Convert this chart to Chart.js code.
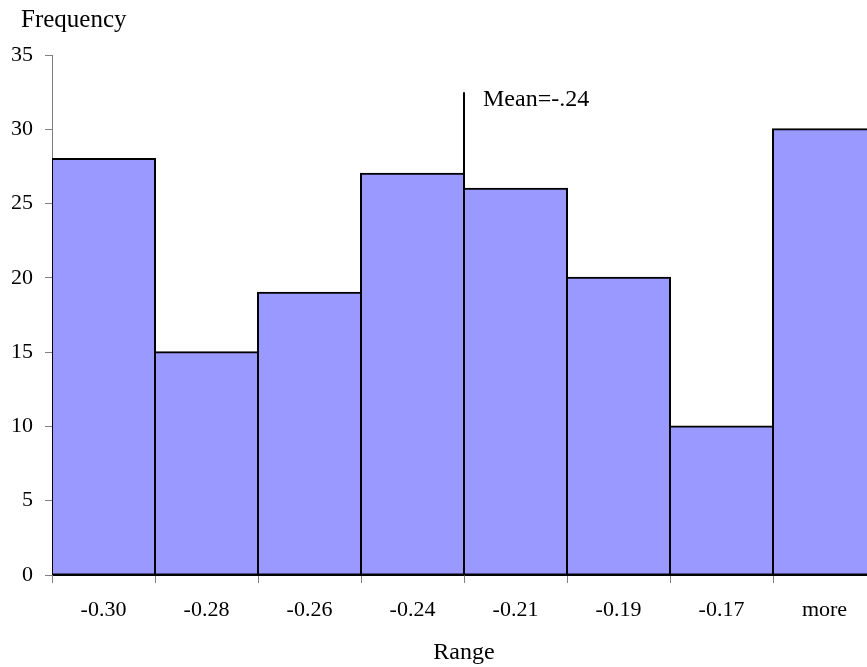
<!DOCTYPE html>
<html>
<head>
<meta charset="utf-8">
<script src="https://cdn.jsdelivr.net/npm/chart.js@4/dist/chart.umd.min.js"></script>
<style>
  html, body { margin: 0; padding: 0; background: #fff; overflow: hidden; }
  #wrap { width: 880px; height: 667px; }
</style>
</head>
<body>
<div id="wrap"><canvas id="c" width="880" height="667"></canvas></div>
<script>
// Histogram bins and their counts
const categories = ['-0.30', '-0.28', '-0.26', '-0.24', '-0.21', '-0.19', '-0.17', 'more'];
const frequencies = [28, 15, 19, 27, 26, 20, 10, 30];
const yTickValues = [0, 5, 10, 15, 20, 25, 30, 35];

// Mean marker: sits on the upper edge of the -0.24 bin (category units)
const meanLabel = 'Mean=-.24';
const meanPosition = 3.5;
const meanLineTop = 32.5;

const FONT = 'Liberation Serif';

const annotations = {
  id: 'annotations',
  afterDatasetsDraw(chart) {
    const { ctx, scales: { x, y } } = chart;
    const px = Math.round(x.getPixelForValue(meanPosition));
    const top = y.getPixelForValue(meanLineTop);
    const bottom = y.getPixelForValue(0);
    ctx.save();
    ctx.strokeStyle = '#000';
    ctx.lineWidth = 2;
    ctx.beginPath();
    ctx.moveTo(px, top);
    ctx.lineTo(px, bottom);
    ctx.stroke();
    ctx.fillStyle = '#000';
    ctx.font = '24px "' + FONT + '"';
    ctx.textBaseline = 'alphabetic';
    ctx.textAlign = 'left';
    ctx.fillText(meanLabel, px + 19, top + 14);
    ctx.font = '25px "' + FONT + '"';
    ctx.fillText('Frequency', 21, 27);
    ctx.restore();
  }
};

new Chart(document.getElementById('c'), {
  type: 'bar',
  data: {
    labels: categories,
    datasets: [{
      data: frequencies,
      backgroundColor: '#9999FF',
      borderColor: '#000',
      borderWidth: 2,
      borderSkipped: false,
      inflateAmount: 1,
      categoryPercentage: 1.0,
      barPercentage: 1.0
    }]
  },
  options: {
    responsive: false,
    animation: false,
    layout: { padding: { top: 55, right: 4, bottom: 0, left: 0 } },
    plugins: { legend: { display: false }, tooltip: { enabled: false } },
    scales: {
      x: {
        offset: true,
        grid: { offset: true, drawOnChartArea: false, tickLength: 8, color: '#808080', tickColor: '#808080' },
        border: { color: '#000', width: 1 },
        ticks: { color: '#000', padding: 14, font: { family: FONT, size: 22 }, maxRotation: 0, autoSkip: false },
        title: { display: true, text: 'Range', color: '#000', font: { family: FONT, size: 24 }, padding: { top: 0, bottom: 0 } },
        afterFit(scale) { scale.height = 92; }
      },
      y: {
        min: 0,
        max: 35,
        afterBuildTicks(scale) { scale.ticks = yTickValues.map(v => ({ value: v })); },
        grid: { drawOnChartArea: false, tickLength: 7, color: '#808080', tickColor: '#808080' },
        border: { color: '#808080', width: 1 },
        ticks: { color: '#000', padding: 12, font: { family: FONT, size: 22 } },
        afterFit(scale) { scale.width = 52; }
      }
    }
  },
  plugins: [annotations]
});
</script>
</body>
</html>
